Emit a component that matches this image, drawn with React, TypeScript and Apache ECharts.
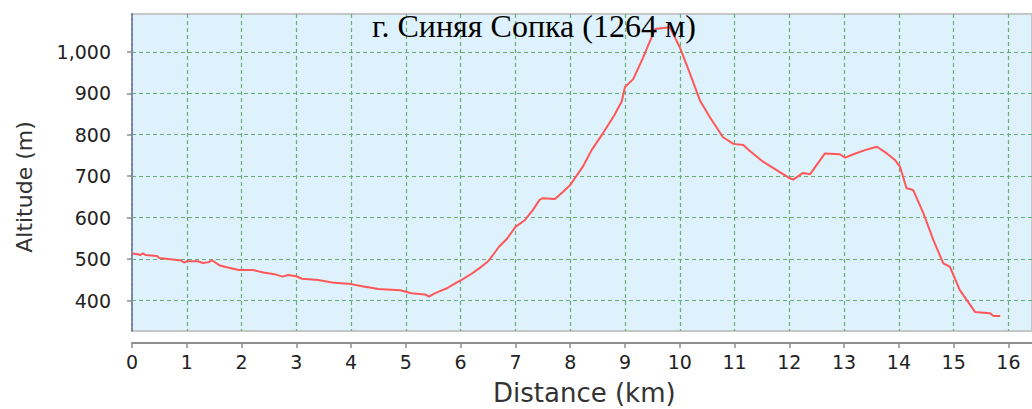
import React, { useEffect, useRef } from "react";
import * as echarts from "echarts";

const titleText = "г. Синяя Сопка (1264 м)";
const xName = "Distance (km)";
const yName = "Altitude (m)";

const distanceKm = [
  0, 0.1, 0.15, 0.2, 0.25, 0.45, 0.5, 0.9, 0.95, 1.0, 1.2, 1.3, 1.4, 1.45, 1.5, 1.6, 1.75, 1.95,
  2.2, 2.4, 2.6, 2.75, 2.85, 3.0, 3.1, 3.4, 3.6, 3.7, 4.0, 4.2, 4.5, 4.9, 5.1, 5.35, 5.42, 5.5,
  5.6, 5.75, 5.9, 6.04, 6.2, 6.35, 6.5, 6.6, 6.7, 6.85, 7.0, 7.17, 7.32, 7.44, 7.5, 7.72, 7.85,
  8.0, 8.23, 8.39, 8.6, 8.81, 8.94, 9.0, 9.15, 9.33, 9.55, 9.82, 10.0, 10.19, 10.37, 10.55,
  10.79, 10.98, 11.16, 11.28, 11.52, 12.01, 12.07, 12.25, 12.38, 12.65, 12.92, 13.02, 13.17,
  13.38, 13.6, 13.78, 13.93, 14.02, 14.14, 14.26, 14.45, 14.63, 14.81, 14.93, 15.11, 15.39,
  15.66, 15.73, 15.85,
];
const altitudeM = [
  514, 512, 510, 514, 510, 508, 503, 497, 492, 495, 495, 491, 493, 497, 494, 485, 480, 474,
  474, 468, 464, 458, 462, 459, 453, 450, 445, 443, 440, 435, 428, 425, 418, 415, 410, 416,
  422, 430, 442, 452, 465, 479, 495, 512, 530, 550, 578, 594, 619, 643, 647, 645, 660,
  679, 723, 763, 804, 848, 880, 915, 934, 986, 1055, 1059, 1011, 946, 882, 842,
  794, 778, 775, 761, 735, 695, 692, 708, 705, 755, 753, 745, 753,
  763, 771, 755, 739, 723, 671, 667, 610, 546, 490, 482, 426, 373,
  370, 363, 363,
];

const xMin = 0;
const xMax = 16.43;
const yMin = 327;
const yMax = 1091;

export default function App() {
  const ref = useRef<HTMLDivElement>(null);
  useEffect(() => {
    document.body.style.margin = "0";
    const chart = echarts.init(ref.current!, null, { renderer: "svg" });
    const data = distanceKm.map((d, i) => [d, altitudeM[i]]);
    const gridColor = "#6aad74";
    const axisColor = "#8e8e8e";
    chart.setOption({
      animation: false,
      title: {
        text: titleText,
        left: 372,
        top: 10,
        padding: 0,
        textStyle: {
          fontFamily: "Liberation Serif",
          fontSize: 32,
          fontWeight: "normal",
          color: "#000",
        },
        z: 10,
      },
      grid: {
        left: 132,
        top: 14,
        right: 0,
        bottom: 78,
        show: true,
        backgroundColor: "#ddf2fd",
        borderColor: "#c6c6c6",
        borderWidth: 2,
      },
      xAxis: {
        type: "value",
        min: xMin,
        max: xMax,
        interval: 1,
        offset: 12,
        axisLine: { show: true, lineStyle: { color: axisColor, width: 2 } },
        axisTick: { show: true, length: 5, lineStyle: { color: axisColor, width: 1.5 } },
        axisLabel: {
          showMaxLabel: false,
          margin: 9,
          fontFamily: "DejaVu Sans",
          fontSize: 19,
          color: "#222",
        },
        splitLine: {
          show: true,
          showMinLine: false,
          showMaxLine: false,
          lineStyle: { color: gridColor, type: [4, 3], width: 1.2 },
        },
      },
      yAxis: {
        type: "value",
        min: yMin,
        max: yMax,
        minInterval: 100,
        maxInterval: 100,
        offset: 10,
        axisLine: { show: true, lineStyle: { color: axisColor, width: 2 } },
        axisTick: { show: true, length: 5, lineStyle: { color: axisColor, width: 1.5 } },
        axisLabel: {
          showMinLabel: false,
          showMaxLabel: false,
          margin: 11,
          fontFamily: "DejaVu Sans",
          fontSize: 19,
          color: "#222",
          formatter: (v: number) => v.toLocaleString("en-US"),
        },
        splitLine: {
          show: true,
          showMinLine: false,
          showMaxLine: false,
          lineStyle: { color: gridColor, type: [4, 3], width: 1.2 },
        },
      },
      graphic: [
        {
          type: "text",
          left: 493,
          top: 380,
          style: {
            text: xName,
            fontFamily: "DejaVu Sans",
            fontSize: 26,
            fill: "#333",
          },
        },
        {
          type: "text",
          x: 24,
          y: 187,
          rotation: Math.PI / 2,
          style: {
            text: yName,
            fontFamily: "DejaVu Sans",
            fontSize: 22,
            fill: "#333",
            align: "center",
            verticalAlign: "middle",
          },
        },
      ],
      series: [
        {
          type: "line",
          data,
          showSymbol: false,
          lineStyle: { color: "#ff5757", width: 2 },
          z: 3,
          markLine: {
            silent: true,
            symbol: "none",
            label: { show: false },
            lineStyle: { color: "#6f7fc0", type: [3, 2], width: 1.5 },
            data: [{ xAxis: 0 }],
          },
        },
      ],
    });
    return () => chart.dispose();
  }, []);
  return <div ref={ref} style={{ width: 1032, height: 409 }} />;
}
